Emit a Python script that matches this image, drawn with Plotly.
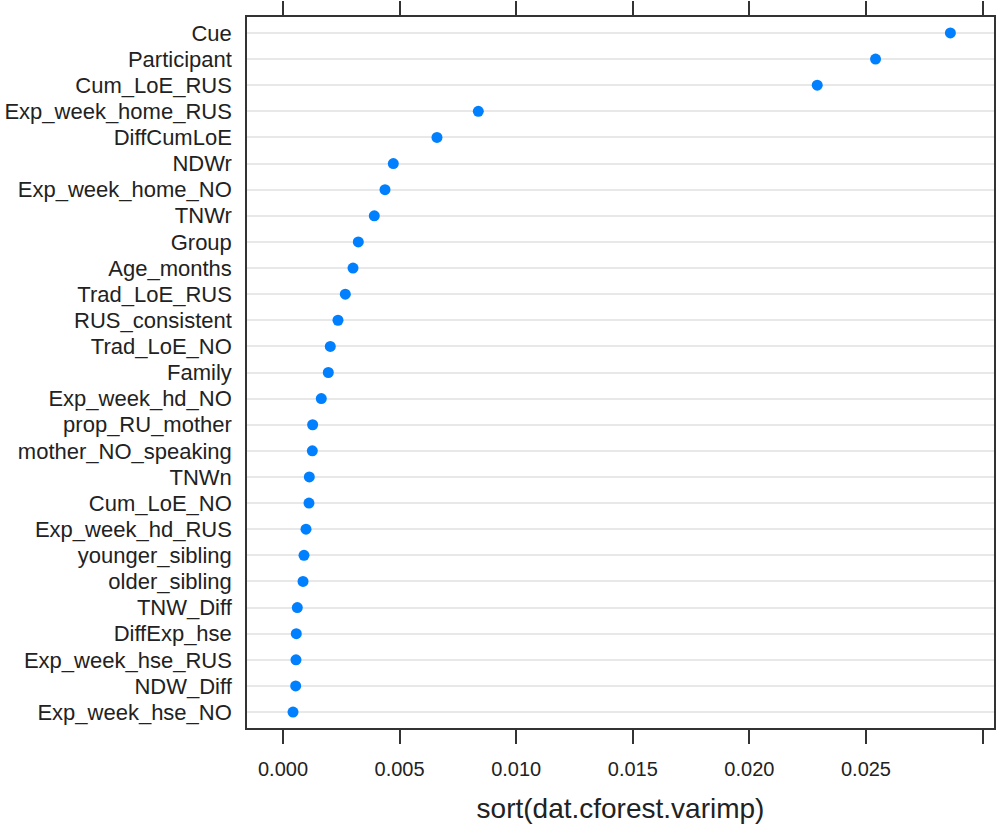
import plotly.graph_objects as go

variables = [
    "Cue", "Participant", "Cum_LoE_RUS", "Exp_week_home_RUS", "DiffCumLoE",
    "NDWr", "Exp_week_home_NO", "TNWr", "Group", "Age_months",
    "Trad_LoE_RUS", "RUS_consistent", "Trad_LoE_NO", "Family", "Exp_week_hd_NO",
    "prop_RU_mother", "mother_NO_speaking", "TNWn", "Cum_LoE_NO", "Exp_week_hd_RUS",
    "younger_sibling", "older_sibling", "TNW_Diff", "DiffExp_hse", "Exp_week_hse_RUS",
    "NDW_Diff", "Exp_week_hse_NO",
]
importance = [
    0.02862, 0.02541, 0.02291, 0.008375, 0.006603,
    0.00473, 0.004374, 0.003915, 0.003229, 0.003002,
    0.002672, 0.002358, 0.002028, 0.001943, 0.001642,
    0.001271, 0.001257, 0.001128, 0.001114, 0.000986,
    0.000900, 0.000858, 0.000613, 0.000570, 0.000557,
    0.000543, 0.000429,
]
x_tickvals = [0.000, 0.005, 0.010, 0.015, 0.020, 0.025, 0.030]
x_ticktext = ["0.000", "0.005", "0.010", "0.015", "0.020", "0.025", ""]
x_title = "sort(dat.cforest.varimp)"

positions = list(range(len(variables)))

fig = go.Figure()
fig.add_trace(go.Scatter(
    x=importance, y=positions, mode="markers",
    marker=dict(color="#0080ff", size=11, line=dict(width=0)),
    hoverinfo="skip", showlegend=False,
))

font_family = "Liberation Sans, Arial, Helvetica, sans-serif"

fig.update_layout(
    width=1000, height=828,
    margin=dict(l=247, r=6, t=17, b=100, autoexpand=False),
    paper_bgcolor="white", plot_bgcolor="white",
    font=dict(family=font_family, color="#222222"),
    xaxis=dict(
        range=[-0.001544, 0.03049],
        tickmode="array", tickvals=x_tickvals, ticktext=x_ticktext,
        ticks="outside", ticklen=14, tickwidth=1.5, tickcolor="#333333",
        ticklabelstandoff=8,
        showline=True, linecolor="#333333", linewidth=1.5, mirror="allticks",
        showgrid=False, zeroline=False, automargin=False,
        tickfont=dict(size=20, color="#222222"),
        title=dict(text=x_title, font=dict(size=28, color="#222222"), standoff=20),
    ),
    yaxis=dict(
        range=[len(variables) - 1 + 0.61, -0.61],
        tickmode="array", tickvals=positions, ticktext=variables,
        ticks="outside", ticklen=9, tickcolor="rgba(0,0,0,0)",
        showline=True, linecolor="#333333", linewidth=1.5, mirror=True,
        showgrid=True, gridcolor="#e8e8e8", gridwidth=1.5,
        zeroline=False, automargin=False,
        tickfont=dict(size=22, color="#222222"),
    ),
)

fig.write_html(
    "out.html",
    config={"displayModeBar": False},
    post_script="document.body.style.margin='0';document.body.style.overflow='hidden';",
)
